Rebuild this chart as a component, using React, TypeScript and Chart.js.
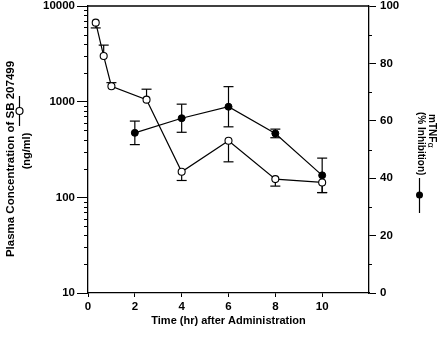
import React, { useEffect, useRef } from 'react';
import { Chart, registerables } from 'chart.js';

Chart.register(...registerables);

// ---- data ----
const pkTimes = [0.33, 0.67, 1, 2.5, 4, 6, 8, 10];
const pkConc = [6700, 3000, 1450, 1050, 185, 390, 155, 143];
const pkErrEnd = [5900, 3900, 1580, 1350, 150, 235, 131, 112];

const pdTimes = [2, 4, 6, 8, 10];
const pdInhib = [55.8, 60.9, 64.9, 55.6, 41.0];
const pdErr = [4.1, 4.9, 7.0, 1.5, 6.0];

const xTicks = [0, 2, 4, 6, 8, 10];
const leftMajor = [10, 100, 1000, 10000];
const leftMinorMult = [2, 3, 4, 5, 6, 7, 8, 9];
const rightMajor = [0, 20, 40, 60, 80, 100];
const rightMinor = [10, 30, 50, 70, 90];

const xTitle = 'Time (hr) after Administration';
const leftTitle1 = 'Plasma Concentration of SB 207499';
const leftTitle2 = '(ng/ml)';
const rightTitle1 = 'mTNF';
const rightTitle1Sub = 'α';
const rightTitle2 = '(% Inhibition)';

const FAMILY = '"Liberation Sans", Arial, Helvetica, sans-serif';
const LW = 1.3;

const overlay = {
  id: 'overlay',
  beforeDatasetsDraw(chart: any) {
    const ctx = chart.ctx;
    const x = chart.scales.x;
    const yL = chart.scales.yL;
    const yR = chart.scales.yR;
    const cap = 5;
    ctx.save();
    ctx.strokeStyle = '#000';
    ctx.lineWidth = 1.2;
    const seg = (a: number, b: number, c: number, d: number) => {
      ctx.beginPath();
      ctx.moveTo(a, b);
      ctx.lineTo(c, d);
      ctx.stroke();
    };
    pkTimes.forEach((t, i) => {
      const px = x.getPixelForValue(t);
      const y0 = yL.getPixelForValue(pkConc[i]);
      const y1 = yL.getPixelForValue(pkErrEnd[i]);
      seg(px, y0, px, y1);
      seg(px - cap, y1, px + cap, y1);
    });
    pdTimes.forEach((t, i) => {
      const px = x.getPixelForValue(t);
      const yt = yR.getPixelForValue(pdInhib[i] + pdErr[i]);
      const yb = yR.getPixelForValue(pdInhib[i] - pdErr[i]);
      seg(px, yt, px, yb);
      seg(px - cap, yt, px + cap, yt);
      seg(px - cap, yb, px + cap, yb);
    });
    ctx.restore();
  },
  afterDraw(chart: any) {
    const ctx = chart.ctx;
    const ca = chart.chartArea;
    const yL = chart.scales.yL;
    const yR = chart.scales.yR;
    ctx.save();
    ctx.strokeStyle = '#000';
    ctx.fillStyle = '#000';
    ctx.lineWidth = LW;
    // top border
    ctx.beginPath();
    ctx.moveTo(ca.left, ca.top);
    ctx.lineTo(ca.right, ca.top);
    ctx.stroke();
    // minor ticks left
    ctx.lineWidth = 1;
    for (let d = 10; d < 10000; d *= 10) {
      leftMinorMult.forEach((m) => {
        const py = Math.round(yL.getPixelForValue(d * m)) + 0.5;
        ctx.beginPath();
        ctx.moveTo(ca.left - 4, py);
        ctx.lineTo(ca.left, py);
        ctx.stroke();
      });
    }
    // minor ticks right
    rightMinor.forEach((v) => {
      const py = Math.round(yR.getPixelForValue(v)) + 0.5;
      ctx.beginPath();
      ctx.moveTo(ca.right, py);
      ctx.lineTo(ca.right + 3, py);
      ctx.stroke();
    });

    // x title
    ctx.font = `bold 11px ${FAMILY}`;
    ctx.textAlign = 'center';
    ctx.textBaseline = 'middle';
    ctx.fillText(xTitle, (ca.left + ca.right) / 2, 321);

    // left title
    ctx.save();
    ctx.translate(10.5, 159);
    ctx.rotate(-Math.PI / 2);
    ctx.font = `bold 11.5px ${FAMILY}`;
    ctx.fillText(leftTitle1, 0, 0);
    ctx.restore();
    ctx.save();
    ctx.translate(27, 151);
    ctx.rotate(-Math.PI / 2);
    ctx.font = `bold 11px ${FAMILY}`;
    ctx.fillText(leftTitle2, 0, 0);
    ctx.restore();
    // left legend marker
    ctx.lineWidth = 1.2;
    ctx.beginPath();
    ctx.moveTo(19.5, 96);
    ctx.lineTo(19.5, 126);
    ctx.stroke();
    ctx.beginPath();
    ctx.arc(19.5, 111, 3.5, 0, Math.PI * 2);
    ctx.fillStyle = '#fff';
    ctx.fill();
    ctx.stroke();
    ctx.fillStyle = '#000';

    // right title
    ctx.save();
    ctx.translate(432, 114);
    ctx.rotate(Math.PI / 2);
    ctx.textAlign = 'left';
    ctx.font = `bold 10px ${FAMILY}`;
    ctx.fillText(rightTitle1, 0, 0);
    const w = ctx.measureText(rightTitle1).width;
    ctx.font = `8.5px ${FAMILY}`;
    ctx.fillText(rightTitle1Sub, w + 0.5, 2);
    ctx.restore();
    ctx.save();
    ctx.translate(421, 112);
    ctx.rotate(Math.PI / 2);
    ctx.textAlign = 'left';
    ctx.font = `bold 10px ${FAMILY}`;
    ctx.fillText(rightTitle2, 0, 0);
    ctx.restore();
    // right legend marker
    ctx.beginPath();
    ctx.moveTo(419.5, 178);
    ctx.lineTo(419.5, 213);
    ctx.stroke();
    ctx.beginPath();
    ctx.arc(419.5, 195, 3.5, 0, Math.PI * 2);
    ctx.fill();
    ctx.restore();
  },
};

const noVPad = (s: any) => {
  s.paddingTop = 0;
  s.paddingBottom = 0;
};

export default function App() {
  const ref = useRef<HTMLCanvasElement | null>(null);
  useEffect(() => {
    document.body.style.margin = '0';
    const canvas = ref.current;
    if (!canvas) return;
    const tickFont = { family: FAMILY, size: 11.5, weight: 'bold' as const };
    const chart = new Chart(canvas, {
      type: 'scatter',
      data: {
        datasets: [
          {
            label: 'Plasma',
            data: pkTimes.map((t, i) => ({ x: t, y: pkConc[i] })),
            yAxisID: 'yL',
            showLine: true,
            borderColor: '#000',
            borderWidth: 1.2,
            pointRadius: 3.5,
            pointBorderWidth: 1.1,
            pointBackgroundColor: '#fff',
            pointBorderColor: '#000',
          },
          {
            label: 'Inhibition',
            data: pdTimes.map((t, i) => ({ x: t, y: pdInhib[i] })),
            yAxisID: 'yR',
            showLine: true,
            borderColor: '#000',
            borderWidth: 1.2,
            pointRadius: 3.5,
            pointBorderWidth: 1,
            pointBackgroundColor: '#000',
            pointBorderColor: '#000',
          },
        ],
      },
      options: {
        responsive: false,
        animation: false,
        devicePixelRatio: 1,
        layout: { padding: { top: 6, left: 0, right: 0, bottom: 0 } },
        plugins: { legend: { display: false }, tooltip: { enabled: false } },
        scales: {
          x: {
            type: 'linear',
            position: 'bottom',
            min: 0,
            max: 12,
            afterBuildTicks: (s: any) => {
              s.ticks = xTicks.map((v) => ({ value: v }));
            },
            afterFit: (s: any) => {
              s.height = 44;
              s.paddingLeft = 0;
              s.paddingRight = 0;
            },
            ticks: { font: tickFont, color: '#000', padding: 3, maxRotation: 0, autoSkip: false },
            grid: { drawOnChartArea: false, tickLength: 4, color: '#000', tickWidth: 1 },
            border: { color: '#000', width: LW },
          },
          yL: {
            type: 'logarithmic',
            position: 'left',
            min: 10,
            max: 10000,
            afterBuildTicks: (s: any) => {
              s.ticks = leftMajor.map((v) => ({ value: v, major: true }));
            },
            afterFit: (s: any) => {
              s.width = 88;
              noVPad(s);
            },
            ticks: { font: tickFont, color: '#000', padding: 2, callback: (v: any) => String(v) },
            grid: { drawOnChartArea: false, tickLength: 11, color: '#000', tickWidth: 1 },
            border: { color: '#000', width: LW },
          },
          yR: {
            type: 'linear',
            position: 'right',
            min: 0,
            max: 100,
            afterBuildTicks: (s: any) => {
              s.ticks = rightMajor.map((v) => ({ value: v }));
            },
            afterFit: (s: any) => {
              s.width = 71;
              noVPad(s);
            },
            ticks: { font: tickFont, color: '#000', padding: 4 },
            grid: { drawOnChartArea: false, tickLength: 7, color: '#000', tickWidth: 1 },
            border: { color: '#000', width: LW },
          },
        },
      },
      plugins: [overlay],
    });
    return () => chart.destroy();
  }, []);
  return (
    <div style={{ width: 440, height: 337, background: '#fff' }}>
      <canvas ref={ref} width={440} height={337} />
    </div>
  );
}
